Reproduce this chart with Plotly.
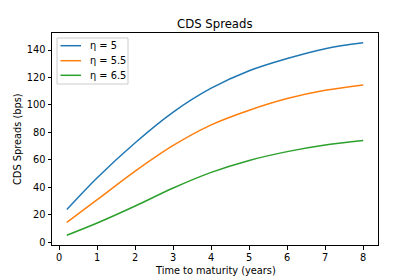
import plotly.graph_objects as go

maturity = [0.2, 1, 2, 3, 4, 5, 6, 7, 8]
eta_labels = ["η = 5", "η = 5.5", "η = 6.5"]
spread_eta5 = [23.8, 47.0, 72.5, 94.8, 112.2, 124.9, 133.8, 141.0, 145.3]
spread_eta55 = [14.5, 31.0, 51.8, 70.5, 85.5, 96.2, 104.7, 110.7, 114.6]
spread_eta65 = [5.1, 14.0, 26.4, 39.5, 50.9, 59.6, 66.0, 70.8, 74.1]
colors = ["#1f77b4", "#ff7f0e", "#2ca02c"]
x_ticks = [0, 1, 2, 3, 4, 5, 6, 7, 8]
y_ticks = [0, 20, 40, 60, 80, 100, 120, 140]

font = "DejaVu Sans"
fig = go.Figure()
for lab, ys, c in zip(eta_labels, [spread_eta5, spread_eta55, spread_eta65], colors):
    fig.add_trace(go.Scatter(x=maturity, y=ys, mode="lines", name=lab, showlegend=False,
                             line=dict(color=c, width=1.5, shape="spline", smoothing=1.0)))

# plot area in pixels: x 52..378, y 33..245
W, H = 326.0, 212.0
def px(xp):
    return (xp - 52) / W
def py(yp):
    return 1 - (yp - 33) / H

shapes = [dict(type="rect", xref="paper", yref="paper",
               x0=px(57), x1=px(128), y0=py(84), y1=py(38),
               line=dict(color="#cccccc", width=1), fillcolor="rgba(255,255,255,0.8)")]
annotations = []
for i, (lab, c) in enumerate(zip(eta_labels, colors)):
    yc = [45.7, 60.7, 75.3][i]
    shapes.append(dict(type="line", xref="paper", yref="paper",
                       x0=px(60.5), x1=px(81), y0=py(yc), y1=py(yc),
                       line=dict(color=c, width=1.5)))
    annotations.append(dict(text=lab, xref="paper", yref="paper", x=px(88), y=py(yc),
                            xanchor="left", yanchor="middle", showarrow=False,
                            font=dict(family=font, size=9.8, color="black")))

annotations.append(dict(text="CDS Spreads", xref="paper", yref="paper", x=0.5, y=py(24),
                        xanchor="center", yanchor="middle", showarrow=False,
                        font=dict(family=font, size=11.7, color="black")))
annotations.append(dict(text="Time to maturity (years)", xref="paper", yref="paper",
                        x=0.5, y=py(270), xanchor="center", yanchor="middle", showarrow=False,
                        font=dict(family=font, size=9.8, color="black")))
annotations.append(dict(text="CDS Spreads (bps)", xref="paper", yref="paper",
                        x=px(17), y=0.5, xanchor="center", yanchor="middle", showarrow=False,
                        textangle=-90, font=dict(family=font, size=9.8, color="black")))

fig.update_layout(
    width=420, height=280,
    margin=dict(l=52, r=42, t=33, b=35),
    paper_bgcolor="white", plot_bgcolor="white",
    font=dict(family=font, size=9.8, color="black"),
    showlegend=False,
    shapes=shapes,
    annotations=annotations,
)
fig.update_xaxes(range=[-0.19, 8.39], tickvals=x_ticks, ticks="outside", ticklen=3.5,
                 tickcolor="black", showline=True, linecolor="black", linewidth=1,
                 mirror=True, showgrid=False, zeroline=False)
fig.update_yaxes(range=[-2, 152.4], tickvals=y_ticks, ticks="outside", ticklen=3.5,
                 tickcolor="black", showline=True, linecolor="black", linewidth=1,
                 mirror=True, showgrid=False, zeroline=False)
fig.write_html("out.html", config={"displayModeBar": False},
               post_script="document.body.style.margin='0px';")
